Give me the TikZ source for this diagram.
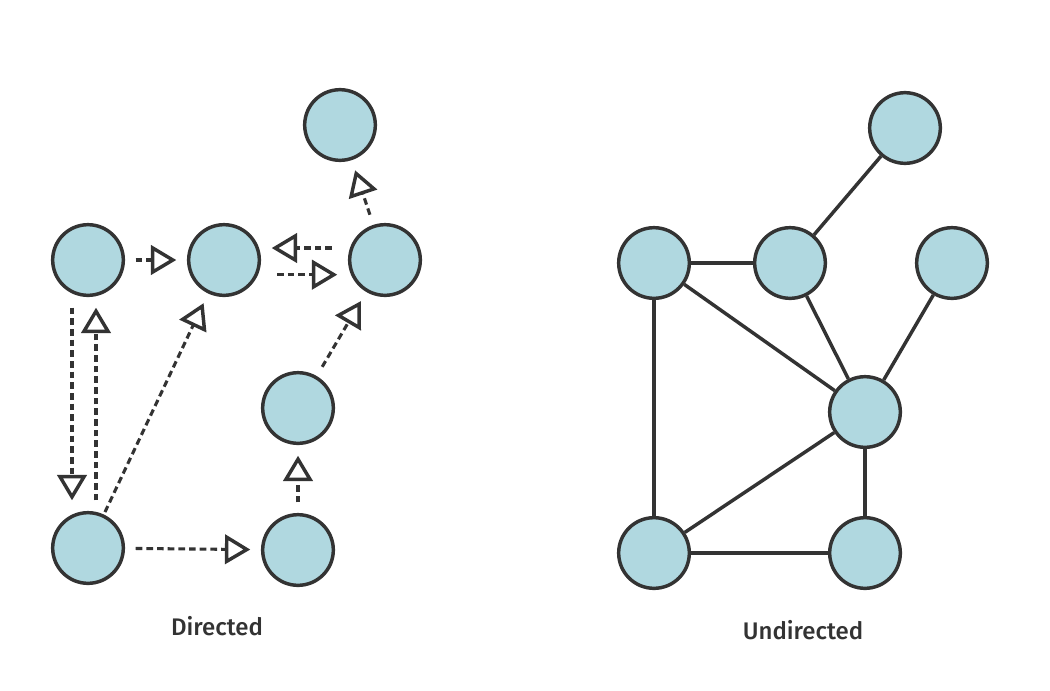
\documentclass[tikz,border=0pt]{standalone}
\usepackage{fontspec}
\IfFontExistsTF{Noto Sans Medium}
  {\newfontfamily\capfont{Noto Sans Medium}}
  {\IfFontExistsTF{Fira Sans Medium}
    {\newfontfamily\capfont{Fira Sans Medium}}
    {\newfontfamily\capfont{Open Sans}}}
\usetikzlibrary{arrows.meta}
\definecolor{nodeblue}{HTML}{B0D8E0}
\definecolor{edgegray}{HTML}{333333}
\tikzset{
  vert/.style={circle, draw=edgegray, fill=nodeblue, line width=2.6pt, minimum size=53pt, inner sep=0pt},
  darc/.style={-{Triangle[open,length=19pt,width=22pt,line width=2.6pt]}, dash pattern=on 5pt off 3pt, line width=2.3pt, draw=edgegray, shorten <=8pt, shorten >=8pt},
  uarc/.style={line width=2.6pt, draw=edgegray},
  caption/.style={text=edgegray, font=\capfont\fontsize{18}{20}\selectfont}
}
\begin{document}
\begin{tikzpicture}[x=0.75pt,y=-0.75pt]
                \useasboundingbox (0,0) rectangle (1050,690);
                % directed
                \node[vert] (a) at (88,260) {};
                \node[vert] (b) at (224,260) {};
                \node[vert] (c) at (385,260) {};
                \node[vert] (d) at (340,125) {};
                \node[vert] (e) at (298,408) {};
                \node[vert] (f) at (88,548) {};
                \node[vert] (g) at (298,550) {};
                \draw[darc] (a) -- (b);
                \draw[darc, shorten <=12pt] ([yshift=9pt]c.west) -- ([yshift=9pt]b.east);
                \draw[darc, shorten <=12pt] ([yshift=-11pt]b.east) -- ([yshift=-11pt]c.west);
                \draw[darc] (c) -- (d);
                \draw[darc] (e) -- (c);
                \draw[darc] (g) -- (e);
                \draw[darc] (f) -- (g);
                \draw[darc] ([xshift=-12pt]a.south) -- ([xshift=-12pt]f.north);
                \draw[darc] ([xshift=6pt]f.north) -- ([xshift=6pt]a.south);
                \draw[darc, shorten <=2pt] (f) -- (b);
                \node[caption] (dlabel) at (217,626) {Directed};
                % undirected
                \node[vert] (p) at (654,263) {};
                \node[vert] (q) at (790,263) {};
                \node[vert] (r) at (905,128) {};
                \node[vert] (s) at (952,263) {};
                \node[vert] (t) at (865,412) {};
                \node[vert] (u) at (654,553) {};
                \node[vert] (v) at (865,553) {};
                \draw[uarc] (p) -- (q);
                \draw[uarc] (q) -- (r);
                \draw[uarc] (p) -- (t);
                \draw[uarc] (q) -- (t);
                \draw[uarc] (s) -- (t);
                \draw[uarc] (p) -- (u);
                \draw[uarc] (u) -- (t);
                \draw[uarc] (u) -- (v);
                \draw[uarc] (t) -- (v);
                \node[caption] (ulabel) at (803,630) {Undirected};
            \end{tikzpicture}
\end{document}
